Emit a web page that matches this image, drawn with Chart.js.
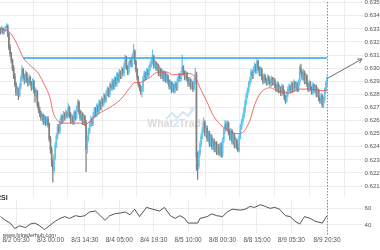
<!DOCTYPE html>
<html><head><meta charset="utf-8">
<script src="https://cdn.jsdelivr.net/npm/chart.js@4.4.0/dist/chart.umd.min.js"></script>
<style>
html,body{margin:0;padding:0;background:#fff;width:380px;height:250px;overflow:hidden;position:relative;font-family:"Liberation Sans",Arial,sans-serif}
#main{position:absolute;left:0;top:0}
#rsi{position:absolute;left:0;top:198px}
.lbl{position:absolute;white-space:nowrap}
#rsiLbl{left:-4px;top:194px;font-size:7px;font-weight:bold;line-height:8px;color:#333}
#url{left:3px;top:232px;font-size:5.5px;line-height:7px;color:#444}
</style></head><body>
<canvas id="main" width="380" height="198"></canvas>
<canvas id="rsi" width="380" height="52"></canvas>
<div class="lbl" id="rsiLbl">RSI</div>
<div class="lbl" id="url">www.fxtraderhub.com</div>
<script>
// ---- data (30-minute candles) ----
const xTickLabels = ['8/2 09:30','8/3 00:00','8/3 14:30','8/4 05:00','8/4 19:30','8/5 10:00','8/8 00:30','8/8 15:00','8/9 05:30','8/9 20:30'];
const xTickCandle = [13,42,71,100,129,158,187,216,245,275];
const priceTicks = [0.621,0.622,0.623,0.624,0.625,0.626,0.627,0.628,0.629,0.630,0.631,0.632,0.633,0.634,0.635];
const rsiTicks = [40,60];

const open = [
0.6329,0.6328,0.6330,0.6327,0.6329,0.6331,0.6332,0.6326,0.6316,0.6311,
0.6306,0.6300,0.6294,0.6288,0.6281,0.6284,0.6279,0.6286,0.6292,0.6299,
0.6294,0.6290,0.6296,0.6291,0.6288,0.6293,0.6289,0.6285,0.6290,0.6283,
0.6279,0.6282,0.6272,0.6268,0.6265,0.6262,0.6264,0.6259,0.6262,0.6258,
0.6261,0.6257,0.6246,0.6238,0.6228,0.6222,0.6232,0.6241,0.6248,0.6255,
0.6252,0.6259,0.6263,0.6260,0.6265,0.6262,0.6266,0.6264,0.6270,0.6264,
0.6260,0.6263,0.6259,0.6266,0.6262,0.6269,0.6274,0.6267,0.6262,0.6265,
0.6259,0.6263,0.6258,0.6238,0.6246,0.6252,0.6257,0.6261,0.6258,0.6264,
0.6268,0.6265,0.6271,0.6267,0.6274,0.6270,0.6276,0.6273,0.6279,0.6276,
0.6281,0.6284,0.6280,0.6287,0.6285,0.6290,0.6286,0.6292,0.6288,0.6295,
0.6291,0.6297,0.6294,0.6299,0.6296,0.6302,0.6308,0.6301,0.6297,0.6303,
0.6306,0.6303,0.6309,0.6313,0.6305,0.6299,0.6293,0.6288,0.6285,0.6282,
0.6284,0.6292,0.6296,0.6293,0.6298,0.6295,0.6300,0.6303,0.6305,0.6309,
0.6302,0.6304,0.6300,0.6302,0.6296,0.6299,0.6294,0.6297,0.6292,0.6296,
0.6291,0.6294,0.6290,0.6286,0.6289,0.6284,0.6287,0.6283,0.6288,0.6285,
0.6291,0.6294,0.6292,0.6296,0.6301,0.6297,0.6293,0.6296,0.6292,0.6288,
0.6291,0.6286,0.6289,0.6284,0.6290,0.6295,0.6232,0.6225,0.6235,0.6242,
0.6248,0.6253,0.6258,0.6250,0.6254,0.6246,0.6250,0.6242,0.6247,0.6240,
0.6244,0.6238,0.6242,0.6236,0.6240,0.6235,0.6241,0.6234,0.6245,0.6252,
0.6257,0.6254,0.6258,0.6251,0.6247,0.6252,0.6244,0.6249,0.6241,0.6245,
0.6240,0.6237,0.6248,0.6255,0.6259,0.6263,0.6268,0.6274,0.6279,0.6283,
0.6288,0.6291,0.6297,0.6294,0.6299,0.6302,0.6298,0.6305,0.6300,0.6296,
0.6299,0.6293,0.6290,0.6294,0.6291,0.6289,0.6293,0.6290,0.6288,0.6292,
0.6289,0.6291,0.6287,0.6284,0.6288,0.6283,0.6285,0.6281,0.6286,0.6282,
0.6278,0.6275,0.6280,0.6284,0.6286,0.6283,0.6288,0.6284,0.6289,0.6285,
0.6288,0.6284,0.6289,0.6300,0.6297,0.6293,0.6297,0.6290,0.6294,0.6288,
0.6284,0.6289,0.6285,0.6282,0.6287,0.6283,0.6286,0.6280,0.6283,0.6277,
0.6275,0.6279,0.6272,0.6276,0.6283,0.6288];
const high = [
0.6331,0.6332,0.6331,0.6330,0.6332,0.6334,0.6333,0.6327,0.6318,0.6312,
0.6307,0.6302,0.6296,0.6289,0.6286,0.6285,0.6288,0.6294,0.6302,0.6300,
0.6295,0.6298,0.6297,0.6292,0.6295,0.6294,0.6290,0.6292,0.6291,0.6285,
0.6284,0.6283,0.6274,0.6270,0.6267,0.6266,0.6265,0.6264,0.6263,0.6263,
0.6263,0.6258,0.6248,0.6240,0.6230,0.6234,0.6243,0.6250,0.6257,0.6257,
0.6261,0.6265,0.6264,0.6267,0.6266,0.6268,0.6267,0.6273,0.6271,0.6266,
0.6265,0.6264,0.6268,0.6267,0.6271,0.6276,0.6275,0.6268,0.6267,0.6266,
0.6265,0.6264,0.6260,0.6248,0.6254,0.6259,0.6263,0.6262,0.6266,0.6270,
0.6270,0.6273,0.6272,0.6276,0.6275,0.6278,0.6277,0.6281,0.6280,0.6283,
0.6286,0.6285,0.6289,0.6288,0.6292,0.6291,0.6294,0.6293,0.6297,0.6296,
0.6299,0.6298,0.6301,0.6300,0.6304,0.6310,0.6309,0.6302,0.6305,0.6308,
0.6307,0.6311,0.6318,0.6314,0.6306,0.6300,0.6294,0.6289,0.6287,0.6286,
0.6294,0.6298,0.6297,0.6300,0.6299,0.6302,0.6305,0.6307,0.6314,0.6310,
0.6306,0.6305,0.6304,0.6303,0.6301,0.6300,0.6299,0.6298,0.6298,0.6297,
0.6296,0.6295,0.6291,0.6291,0.6290,0.6289,0.6288,0.6290,0.6289,0.6293,
0.6296,0.6296,0.6298,0.6310,0.6302,0.6298,0.6298,0.6297,0.6293,0.6293,
0.6292,0.6291,0.6290,0.6292,0.6300,0.6297,0.6236,0.6237,0.6244,0.6250,
0.6255,0.6262,0.6260,0.6256,0.6256,0.6252,0.6252,0.6249,0.6249,0.6246,
0.6246,0.6244,0.6244,0.6242,0.6242,0.6243,0.6243,0.6247,0.6254,0.6260,
0.6259,0.6260,0.6259,0.6253,0.6254,0.6253,0.6251,0.6250,0.6247,0.6246,
0.6242,0.6250,0.6257,0.6261,0.6265,0.6270,0.6276,0.6281,0.6285,0.6290,
0.6293,0.6299,0.6298,0.6301,0.6304,0.6303,0.6307,0.6306,0.6301,0.6301,
0.6300,0.6295,0.6296,0.6295,0.6292,0.6295,0.6294,0.6291,0.6294,0.6293,
0.6293,0.6292,0.6288,0.6290,0.6289,0.6287,0.6286,0.6288,0.6287,0.6283,
0.6279,0.6282,0.6286,0.6288,0.6287,0.6290,0.6289,0.6291,0.6290,0.6290,
0.6289,0.6291,0.6302,0.6303,0.6298,0.6299,0.6298,0.6296,0.6295,0.6289,
0.6291,0.6290,0.6286,0.6289,0.6288,0.6287,0.6287,0.6285,0.6284,0.6278,
0.6281,0.6280,0.6278,0.6285,0.6290,0.6294];
const low = [
0.6326,0.6327,0.6326,0.6326,0.6328,0.6330,0.6324,0.6314,0.6309,0.6304,
0.6298,0.6292,0.6286,0.6279,0.6280,0.6276,0.6278,0.6284,0.6290,0.6292,
0.6288,0.6289,0.6289,0.6286,0.6287,0.6287,0.6283,0.6284,0.6281,0.6274,
0.6277,0.6270,0.6266,0.6263,0.6260,0.6260,0.6257,0.6257,0.6256,0.6256,
0.6255,0.6244,0.6235,0.6225,0.6213,0.6220,0.6230,0.6239,0.6246,0.6250,
0.6250,0.6257,0.6258,0.6259,0.6260,0.6261,0.6262,0.6263,0.6262,0.6258,
0.6258,0.6257,0.6257,0.6260,0.6261,0.6267,0.6265,0.6260,0.6260,0.6257,
0.6257,0.6256,0.6221,0.6235,0.6244,0.6250,0.6255,0.6256,0.6256,0.6262,
0.6263,0.6263,0.6265,0.6265,0.6268,0.6268,0.6271,0.6271,0.6274,0.6274,
0.6279,0.6278,0.6278,0.6283,0.6283,0.6284,0.6284,0.6286,0.6286,0.6289,
0.6289,0.6292,0.6292,0.6294,0.6294,0.6300,0.6299,0.6295,0.6295,0.6301,
0.6301,0.6301,0.6307,0.6303,0.6297,0.6291,0.6286,0.6283,0.6280,0.6278,
0.6282,0.6290,0.6291,0.6291,0.6293,0.6293,0.6298,0.6301,0.6303,0.6300,
0.6300,0.6298,0.6298,0.6294,0.6294,0.6292,0.6292,0.6290,0.6290,0.6289,
0.6289,0.6288,0.6284,0.6284,0.6281,0.6282,0.6281,0.6281,0.6283,0.6283,
0.6289,0.6290,0.6290,0.6294,0.6295,0.6291,0.6291,0.6290,0.6286,0.6286,
0.6284,0.6284,0.6282,0.6283,0.6288,0.6222,0.6215,0.6223,0.6233,0.6240,
0.6246,0.6251,0.6248,0.6248,0.6244,0.6244,0.6240,0.6240,0.6238,0.6238,
0.6236,0.6236,0.6234,0.6234,0.6233,0.6233,0.6232,0.6232,0.6243,0.6250,
0.6252,0.6252,0.6249,0.6245,0.6245,0.6242,0.6242,0.6239,0.6239,0.6238,
0.6236,0.6236,0.6246,0.6253,0.6257,0.6261,0.6266,0.6272,0.6277,0.6281,
0.6286,0.6289,0.6292,0.6292,0.6297,0.6296,0.6296,0.6298,0.6294,0.6294,
0.6291,0.6288,0.6288,0.6289,0.6287,0.6287,0.6288,0.6286,0.6286,0.6287,
0.6287,0.6285,0.6282,0.6282,0.6281,0.6281,0.6279,0.6279,0.6280,0.6276,
0.6273,0.6274,0.6278,0.6282,0.6281,0.6281,0.6282,0.6282,0.6283,0.6283,
0.6282,0.6282,0.6287,0.6295,0.6291,0.6291,0.6288,0.6288,0.6286,0.6282,
0.6282,0.6283,0.6280,0.6280,0.6281,0.6281,0.6278,0.6278,0.6275,0.6273,
0.6273,0.6270,0.6270,0.6274,0.6281,0.6286];
const close = [
0.6328,0.6330,0.6327,0.6329,0.6331,0.6332,0.6326,0.6316,0.6311,0.6306,
0.6300,0.6294,0.6288,0.6281,0.6284,0.6279,0.6286,0.6292,0.6299,0.6294,
0.6290,0.6296,0.6291,0.6288,0.6293,0.6289,0.6285,0.6290,0.6283,0.6279,
0.6282,0.6272,0.6268,0.6265,0.6262,0.6264,0.6259,0.6262,0.6258,0.6261,
0.6257,0.6246,0.6238,0.6228,0.6222,0.6232,0.6241,0.6248,0.6255,0.6252,
0.6259,0.6263,0.6260,0.6265,0.6262,0.6266,0.6264,0.6270,0.6264,0.6260,
0.6263,0.6259,0.6266,0.6262,0.6269,0.6274,0.6267,0.6262,0.6265,0.6259,
0.6263,0.6258,0.6238,0.6246,0.6252,0.6257,0.6261,0.6258,0.6264,0.6268,
0.6265,0.6271,0.6267,0.6274,0.6270,0.6276,0.6273,0.6279,0.6276,0.6281,
0.6284,0.6280,0.6287,0.6285,0.6290,0.6286,0.6292,0.6288,0.6295,0.6291,
0.6297,0.6294,0.6299,0.6296,0.6302,0.6308,0.6301,0.6297,0.6303,0.6306,
0.6303,0.6309,0.6313,0.6305,0.6299,0.6293,0.6288,0.6285,0.6282,0.6284,
0.6292,0.6296,0.6293,0.6298,0.6295,0.6300,0.6303,0.6305,0.6309,0.6302,
0.6304,0.6300,0.6302,0.6296,0.6299,0.6294,0.6297,0.6292,0.6296,0.6291,
0.6294,0.6290,0.6286,0.6289,0.6284,0.6287,0.6283,0.6288,0.6285,0.6291,
0.6294,0.6292,0.6296,0.6301,0.6297,0.6293,0.6296,0.6292,0.6288,0.6291,
0.6286,0.6289,0.6284,0.6290,0.6295,0.6232,0.6225,0.6235,0.6242,0.6248,
0.6253,0.6258,0.6250,0.6254,0.6246,0.6250,0.6242,0.6247,0.6240,0.6244,
0.6238,0.6242,0.6236,0.6240,0.6235,0.6241,0.6234,0.6245,0.6252,0.6257,
0.6254,0.6258,0.6251,0.6247,0.6252,0.6244,0.6249,0.6241,0.6245,0.6240,
0.6237,0.6248,0.6255,0.6259,0.6263,0.6268,0.6274,0.6279,0.6283,0.6288,
0.6291,0.6297,0.6294,0.6299,0.6302,0.6298,0.6305,0.6300,0.6296,0.6299,
0.6293,0.6290,0.6294,0.6291,0.6289,0.6293,0.6290,0.6288,0.6292,0.6289,
0.6291,0.6287,0.6284,0.6288,0.6283,0.6285,0.6281,0.6286,0.6282,0.6278,
0.6275,0.6280,0.6284,0.6286,0.6283,0.6288,0.6284,0.6289,0.6285,0.6288,
0.6284,0.6289,0.6300,0.6297,0.6293,0.6297,0.6290,0.6294,0.6288,0.6284,
0.6289,0.6285,0.6282,0.6287,0.6283,0.6286,0.6280,0.6283,0.6277,0.6275,
0.6279,0.6272,0.6276,0.6283,0.6288,0.6292];

// moving average, read at selected candles
const maCandle = [0,8,14,19,25,31,36,42,44,48,52,58,67,71,78,84,92,101,109,113,117,122,126,130,134,140,145,151,157,164,168,174,179,185,191,199,204,210,214,219,227,235,244,252,261,269,275];
const maValue = [0.6330,0.6327,0.6318,0.6308,0.6302,0.6297,0.6289,0.6276,0.6267,0.6260,0.6258,0.6258,0.6258,0.6257,0.6262,0.6266,0.6270,0.6276,0.6285,0.6289,0.6289,0.6291,0.6293,0.6296,0.6297,0.6297,0.6295,0.6295,0.6296,0.6293,0.6285,0.6274,0.6264,0.6257,0.6253,0.6250,0.6251,0.6260,0.6272,0.6281,0.6285,0.6282,0.6281,0.6284,0.6284,0.6283,0.6283];

// RSI, read at selected candles
const rsiCandle = [0,4,8,12,16,21,25,29,33,37,42,46,50,54,58,63,67,71,75,80,84,88,92,96,101,105,109,113,117,123,128,134,138,143,147,151,155,158,166,168,174,178,182,187,191,195,202,206,210,214,219,223,227,231,235,240,244,248,252,255,256,261,265,271,275];
const rsiValue = [50,45.6,42.2,35.6,38.9,36.7,41.1,42.2,38.9,34.4,40,44.4,47.8,50,47.8,51.1,50,51.1,55.6,56.7,51.1,45.6,51.1,53.3,54.4,55.6,52.2,58.9,50,61.1,58.9,56.7,61.1,51.1,47.8,51.1,47.8,42.2,42.2,47.8,50,53.3,51.1,50,55.6,58.9,57.8,58.9,62.2,61.1,64.4,62.2,60,61.1,58.9,51.1,50,44.4,41.1,47.8,50,47.8,44.4,42.2,51];

const resistanceLevel = 0.63077;
const resistanceFromCandle = 19;
const projectionCandle = 304.5;
const projectionPrice = 0.6307;

// ---- drawing ----
const FONT = '"Liberation Sans", Arial, sans-serif';
Chart.defaults.font.family = FONT;
const UP = '#66c4ee', DOWN = '#828282', GRID = '#ececec';
const lastIdx = close.length - 1;
const X_MIN = -0.5, X_MAX = 305.3;

const wickData = close.map((c, i) => ({x: i, y: [low[i], high[i]]}));
const bodyData = close.map((c, i) => ({x: i, y: [open[i], c]}));
const candleColors = close.map((c, i) => c >= open[i] ? UP : DOWN);
const maData = maCandle.map((x, k) => ({x, y: maValue[k]}));
const rsiData = rsiCandle.map((x, k) => ({x, y: rsiValue[k]}));

function xScale(showLabels) {
  return {
    type: 'linear', min: X_MIN, max: X_MAX, offset: false,
    afterBuildTicks: s => { s.ticks = xTickCandle.map(v => ({value: v})); },
    afterFit: s => { s.paddingLeft = 0; s.paddingRight = 0; },
    grid: {color: GRID, drawTicks: false},
    border: {display: false},
    ticks: {display: showLabels, autoSkip: false, maxRotation: 0, minRotation: 0, padding: 3,
      font: {size: 6.5, family: FONT}, color: '#555',
      callback: v => xTickLabels[xTickCandle.indexOf(v)]}
  };
}
function yScale(min, max, ticks, fmt) {
  return {
    position: 'right', min, max,
    afterBuildTicks: s => { s.ticks = ticks.map(v => ({value: v})); },
    afterFit: s => { s.width = 17; s.paddingTop = 0; s.paddingBottom = 0; },
    grid: {color: GRID, drawTicks: false},
    border: {display: false},
    ticks: {padding: 1.5, font: {size: 6.1, family: FONT}, color: '#555', callback: fmt}
  };
}
function dashedLast(chart, extra) {
  const ctx = chart.ctx, x = chart.scales.x.getPixelForValue(lastIdx);
  ctx.save();
  ctx.strokeStyle = '#8c8c8c'; ctx.lineWidth = 1; ctx.setLineDash([1.5, 1.5]);
  ctx.beginPath(); ctx.moveTo(Math.round(x) + 0.5, 2); ctx.lineTo(Math.round(x) + 0.5, chart.chartArea.bottom + extra); ctx.stroke();
  ctx.restore();
}

const mainPlugin = {
  id: 'mainDecor',
  beforeDatasetsDraw(chart) {
    const ctx = chart.ctx;
    ctx.save();
    ctx.strokeStyle = '#d3e9f7'; ctx.lineWidth = 2.2; ctx.lineJoin = 'round';
    ctx.beginPath();
    ctx.moveTo(166, 119); ctx.lineTo(172, 113); ctx.lineTo(177, 118); ctx.lineTo(183, 112); ctx.lineTo(188, 116); ctx.lineTo(193, 109);
    ctx.stroke();
    ctx.fillStyle = '#d3e9f7';
    ctx.beginPath(); ctx.moveTo(195, 106); ctx.lineTo(189, 108); ctx.lineTo(194, 112); ctx.closePath(); ctx.fill();
    ctx.font = 'bold 10.5px ' + FONT; ctx.textBaseline = 'middle';
    const parts = [['What', '#dadada'], ['2', '#cde5f5'], ['Trade', '#dadada']];
    let total = parts.reduce((a, p) => a + ctx.measureText(p[0]).width, 0);
    let x = 177 - total / 2;
    parts.forEach(p => { ctx.fillStyle = p[1]; ctx.fillText(p[0], x, 124); x += ctx.measureText(p[0]).width; });
    ctx.restore();
  },
  afterDatasetsDraw(chart) {
    dashedLast(chart, 2);
    const {ctx, scales: {x, y}} = chart;
    const x0 = x.getPixelForValue(lastIdx), y0 = y.getPixelForValue(close[lastIdx]);
    const x1 = x.getPixelForValue(projectionCandle), y1 = y.getPixelForValue(projectionPrice);
    const a = Math.atan2(y1 - y0, x1 - x0), L = 5;
    ctx.save();
    ctx.strokeStyle = '#6f6f6f'; ctx.lineWidth = 1;
    ctx.beginPath();
    ctx.moveTo(x1 - L * Math.cos(a - 0.5), y1 - L * Math.sin(a - 0.5));
    ctx.lineTo(x1, y1);
    ctx.lineTo(x1 - L * Math.cos(a + 0.5), y1 - L * Math.sin(a + 0.5));
    ctx.stroke();
    ctx.restore();
  }
};

new Chart(document.getElementById('main'), {
  type: 'bar',
  data: {
    datasets: [
      {type: 'line', data: [{x: lastIdx, y: close[lastIdx]}, {x: projectionCandle, y: projectionPrice}], borderColor: '#6f6f6f', borderWidth: 1, pointRadius: 0, order: 1},
      {type: 'line', data: [{x: resistanceFromCandle, y: resistanceLevel}, {x: lastIdx, y: resistanceLevel}], borderColor: '#2ba6e6', borderWidth: 1.6, pointRadius: 0, order: 2},
      {type: 'line', data: maData, borderColor: 'rgba(240,80,80,0.85)', borderWidth: 1, pointRadius: 0, cubicInterpolationMode: 'monotone', order: 3},
      {type: 'bar', data: bodyData, backgroundColor: candleColors, barThickness: 1, grouped: false, minBarLength: 1, borderWidth: 0, order: 4},
      {type: 'bar', data: wickData, backgroundColor: candleColors, barThickness: 0.6, grouped: false, borderWidth: 0, order: 5}
    ]
  },
  options: {
    responsive: false, animation: false, devicePixelRatio: 1,
    layout: {padding: {left: 0, right: 0, top: 0, bottom: 1.5}},
    plugins: {legend: {display: false}, tooltip: {enabled: false}},
    scales: {
      x: xScale(false),
      y: yScale(0.6202, 0.6352, priceTicks, v => v.toFixed(3))
    }
  },
  plugins: [mainPlugin]
});

new Chart(document.getElementById('rsi'), {
  type: 'line',
  data: {datasets: [{data: rsiData, borderColor: '#2a2a2a', borderWidth: 0.8, pointRadius: 0, tension: 0}]},
  options: {
    responsive: false, animation: false, devicePixelRatio: 1,
    layout: {padding: {left: 0, right: 0, top: 2, bottom: 3}},
    plugins: {legend: {display: false}, tooltip: {enabled: false}},
    scales: {
      x: xScale(true),
      y: yScale(30, 70, rsiTicks, v => String(v))
    }
  },
  plugins: [{id: 'rsiDecor', afterDatasetsDraw(chart) { dashedLast(chart, 2); }}]
});
</script>
</body></html>
